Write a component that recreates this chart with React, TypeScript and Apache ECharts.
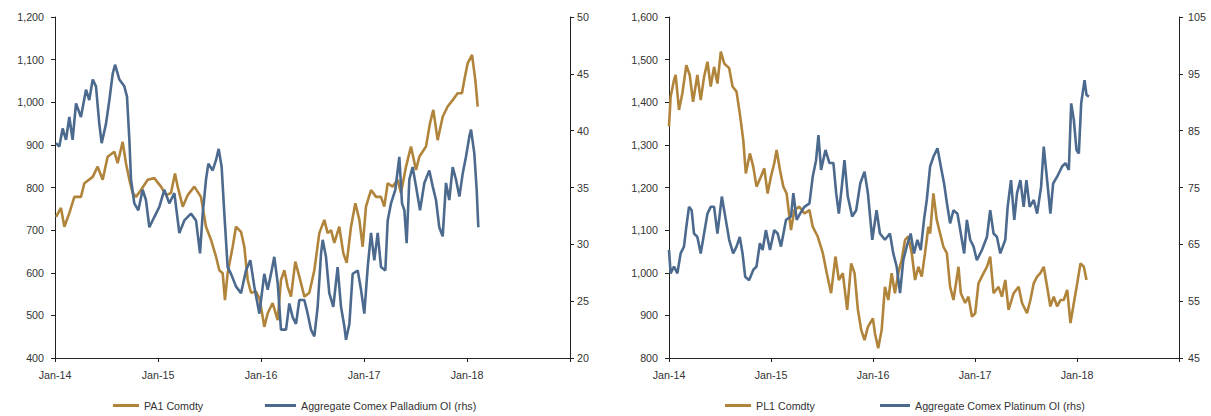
import React, { useEffect, useRef } from "react";
import * as echarts from "echarts";

// x values are decimal years (e.g. 2015.5 = early July 2015)
const yearLabels = ["Jan-14", "Jan-15", "Jan-16", "Jan-17", "Jan-18"];

const pa1Years = [2014.010, 2014.058, 2014.091, 2014.139, 2014.188, 2014.252, 2014.285, 2014.366, 2014.414, 2014.463, 2014.511, 2014.576, 2014.608, 2014.657, 2014.689, 2014.722, 2014.754, 2014.786, 2014.835, 2014.900, 2014.964, 2015.029, 2015.078, 2015.126, 2015.165, 2015.191, 2015.240, 2015.288, 2015.353, 2015.417, 2015.466, 2015.515, 2015.563, 2015.595, 2015.628, 2015.650, 2015.676, 2015.725, 2015.757, 2015.806, 2015.838, 2015.871, 2015.903, 2015.951, 2015.985, 2016.016, 2016.032, 2016.065, 2016.113, 2016.162, 2016.194, 2016.227, 2016.259, 2016.291, 2016.333, 2016.372, 2016.421, 2016.469, 2016.518, 2016.566, 2016.615, 2016.647, 2016.680, 2016.712, 2016.760, 2016.799, 2016.832, 2016.874, 2016.916, 2016.955, 2016.987, 2017.019, 2017.068, 2017.117, 2017.165, 2017.197, 2017.230, 2017.278, 2017.327, 2017.359, 2017.408, 2017.456, 2017.505, 2017.537, 2017.602, 2017.641, 2017.673, 2017.715, 2017.764, 2017.812, 2017.861, 2017.909, 2017.951, 2017.974, 2018.006, 2018.049, 2018.081, 2018.104];
const pa1Values = [731, 752, 708, 740, 778, 778, 810, 825, 849, 818, 872, 884, 857, 907, 857, 818, 787, 778, 794, 818, 822, 802, 782, 787, 833, 802, 755, 782, 802, 778, 708, 677, 638, 606, 599, 536, 599, 661, 708, 696, 661, 583, 553, 556, 540, 497, 473, 505, 529, 489, 583, 606, 567, 544, 626, 591, 544, 553, 606, 693, 724, 693, 700, 670, 708, 646, 623, 708, 763, 724, 661, 755, 794, 778, 778, 755, 810, 802, 818, 787, 849, 896, 841, 872, 896, 951, 982, 911, 966, 990, 1005, 1021, 1021, 1052, 1091, 1111, 1052, 990];

const pdOiYears = [2014.010, 2014.042, 2014.074, 2014.107, 2014.139, 2014.171, 2014.204, 2014.252, 2014.301, 2014.333, 2014.366, 2014.398, 2014.430, 2014.453, 2014.495, 2014.528, 2014.560, 2014.583, 2014.625, 2014.673, 2014.699, 2014.722, 2014.738, 2014.770, 2014.809, 2014.851, 2014.883, 2014.916, 2014.964, 2015.013, 2015.061, 2015.110, 2015.159, 2015.207, 2015.256, 2015.320, 2015.369, 2015.408, 2015.434, 2015.466, 2015.489, 2015.531, 2015.563, 2015.589, 2015.618, 2015.644, 2015.676, 2015.709, 2015.757, 2015.806, 2015.854, 2015.896, 2015.935, 2015.984, 2016.032, 2016.065, 2016.097, 2016.129, 2016.162, 2016.194, 2016.243, 2016.275, 2016.307, 2016.340, 2016.372, 2016.421, 2016.453, 2016.485, 2016.518, 2016.550, 2016.583, 2016.599, 2016.631, 2016.663, 2016.702, 2016.744, 2016.777, 2016.809, 2016.825, 2016.858, 2016.890, 2016.939, 2016.971, 2017.003, 2017.036, 2017.068, 2017.100, 2017.133, 2017.165, 2017.207, 2017.230, 2017.262, 2017.304, 2017.343, 2017.369, 2017.392, 2017.414, 2017.440, 2017.472, 2017.505, 2017.544, 2017.586, 2017.634, 2017.667, 2017.699, 2017.731, 2017.764, 2017.796, 2017.828, 2017.861, 2017.893, 2017.926, 2017.958, 2017.990, 2018.023, 2018.039, 2018.071, 2018.094, 2018.110];
const pdOiValues = [38.9, 38.6, 40.2, 39.2, 41.2, 39.2, 42.4, 41.2, 43.6, 42.7, 44.5, 43.9, 40.6, 38.9, 40.6, 42.7, 45.0, 45.8, 44.5, 43.9, 43.0, 39.2, 35.7, 33.6, 33.0, 34.8, 33.9, 31.5, 32.4, 33.3, 34.8, 33.6, 34.5, 31.0, 32.1, 32.7, 32.1, 29.2, 32.7, 35.7, 37.1, 36.5, 37.4, 38.4, 36.8, 32.7, 28.0, 27.4, 26.3, 25.7, 27.7, 28.6, 26.3, 23.9, 27.4, 26.0, 27.4, 28.9, 26.6, 22.5, 22.5, 24.8, 23.6, 23.0, 25.1, 25.1, 23.9, 22.5, 21.9, 24.5, 29.2, 30.4, 28.9, 25.7, 24.5, 28.0, 24.5, 22.8, 21.6, 23.0, 27.4, 27.7, 26.0, 23.9, 28.0, 31.0, 28.6, 31.0, 28.0, 27.7, 32.1, 33.6, 34.8, 37.7, 33.6, 33.0, 30.1, 35.7, 36.8, 35.1, 33.0, 35.4, 36.5, 35.1, 33.9, 31.5, 30.7, 35.4, 33.9, 36.8, 35.7, 34.2, 36.2, 37.7, 39.5, 40.1, 38.0, 34.8, 31.5];

const pl1Years = [2014.000, 2014.016, 2014.049, 2014.065, 2014.098, 2014.131, 2014.170, 2014.203, 2014.236, 2014.278, 2014.311, 2014.344, 2014.377, 2014.409, 2014.442, 2014.475, 2014.508, 2014.541, 2014.590, 2014.623, 2014.662, 2014.694, 2014.728, 2014.753, 2014.793, 2014.826, 2014.858, 2014.901, 2014.934, 2014.967, 2014.999, 2015.032, 2015.055, 2015.088, 2015.121, 2015.153, 2015.196, 2015.229, 2015.278, 2015.328, 2015.377, 2015.409, 2015.458, 2015.508, 2015.547, 2015.589, 2015.632, 2015.665, 2015.704, 2015.747, 2015.786, 2015.819, 2015.852, 2015.884, 2015.917, 2015.950, 2015.999, 2016.019, 2016.051, 2016.085, 2016.117, 2016.150, 2016.183, 2016.215, 2016.248, 2016.281, 2016.314, 2016.346, 2016.380, 2016.412, 2016.445, 2016.478, 2016.510, 2016.543, 2016.560, 2016.592, 2016.625, 2016.658, 2016.690, 2016.724, 2016.756, 2016.789, 2016.838, 2016.861, 2016.904, 2016.936, 2016.970, 2017.002, 2017.034, 2017.084, 2017.117, 2017.149, 2017.182, 2017.231, 2017.264, 2017.297, 2017.329, 2017.379, 2017.428, 2017.461, 2017.510, 2017.543, 2017.575, 2017.609, 2017.641, 2017.674, 2017.707, 2017.739, 2017.772, 2017.805, 2017.838, 2017.870, 2017.904, 2017.936, 2017.969, 2018.002, 2018.034, 2018.067, 2018.093];
const pl1Values = [1343, 1413, 1452, 1464, 1382, 1421, 1487, 1464, 1401, 1464, 1405, 1460, 1495, 1437, 1483, 1444, 1519, 1491, 1480, 1437, 1425, 1374, 1311, 1233, 1280, 1249, 1202, 1225, 1245, 1186, 1225, 1257, 1288, 1241, 1202, 1186, 1100, 1147, 1155, 1139, 1147, 1108, 1085, 1046, 999, 952, 1038, 983, 999, 913, 1022, 999, 913, 866, 842, 873, 893, 858, 823, 866, 967, 936, 999, 952, 999, 1030, 1077, 1085, 1046, 983, 1014, 991, 1046, 1108, 1092, 1186, 1124, 1092, 1061, 1046, 967, 936, 1014, 952, 929, 944, 897, 905, 975, 999, 1014, 1038, 952, 967, 944, 983, 913, 952, 967, 929, 905, 936, 975, 991, 999, 1014, 967, 921, 944, 921, 936, 936, 960, 882, 929, 975, 1022, 1014, 983];

const ptOiYears = [2014.000, 2014.016, 2014.049, 2014.082, 2014.114, 2014.147, 2014.170, 2014.196, 2014.222, 2014.245, 2014.278, 2014.311, 2014.344, 2014.377, 2014.409, 2014.442, 2014.475, 2014.518, 2014.557, 2014.590, 2014.629, 2014.662, 2014.694, 2014.721, 2014.747, 2014.786, 2014.826, 2014.858, 2014.891, 2014.918, 2014.950, 2014.990, 2015.032, 2015.065, 2015.098, 2015.147, 2015.196, 2015.219, 2015.252, 2015.285, 2015.328, 2015.377, 2015.409, 2015.442, 2015.465, 2015.491, 2015.534, 2015.573, 2015.612, 2015.639, 2015.665, 2015.694, 2015.720, 2015.753, 2015.796, 2015.835, 2015.875, 2015.917, 2015.950, 2015.993, 2016.035, 2016.068, 2016.117, 2016.166, 2016.199, 2016.232, 2016.265, 2016.297, 2016.330, 2016.369, 2016.402, 2016.435, 2016.468, 2016.500, 2016.527, 2016.560, 2016.592, 2016.632, 2016.665, 2016.697, 2016.730, 2016.756, 2016.789, 2016.828, 2016.861, 2016.894, 2016.920, 2016.953, 2016.986, 2017.018, 2017.068, 2017.117, 2017.149, 2017.182, 2017.215, 2017.248, 2017.297, 2017.320, 2017.353, 2017.385, 2017.412, 2017.445, 2017.477, 2017.504, 2017.536, 2017.576, 2017.609, 2017.648, 2017.674, 2017.707, 2017.739, 2017.766, 2017.805, 2017.854, 2017.887, 2017.920, 2017.943, 2017.969, 2017.995, 2018.018, 2018.041, 2018.074, 2018.093, 2018.117];
const ptOiValues = [64.0, 59.9, 61.1, 59.9, 63.4, 64.6, 68.1, 71.6, 71.0, 66.9, 66.3, 63.4, 66.9, 70.4, 71.6, 71.6, 66.9, 73.4, 69.3, 65.8, 63.4, 64.6, 66.3, 63.4, 59.3, 58.7, 60.5, 61.1, 65.2, 64.0, 67.5, 64.0, 67.5, 66.9, 64.6, 69.3, 69.9, 74.0, 69.3, 70.4, 71.6, 72.2, 76.9, 79.8, 84.2, 78.1, 81.6, 79.3, 79.3, 74.0, 70.4, 75.1, 79.8, 73.4, 69.9, 71.0, 75.7, 77.8, 74.0, 65.8, 71.0, 66.9, 65.8, 66.9, 63.4, 61.1, 56.4, 62.2, 64.6, 66.9, 63.4, 65.8, 64.0, 69.3, 72.8, 78.7, 80.4, 81.9, 78.7, 75.7, 71.6, 68.7, 71.0, 70.4, 66.9, 63.4, 69.3, 65.8, 64.6, 62.2, 64.0, 66.3, 71.0, 66.9, 66.3, 63.4, 65.8, 71.6, 76.3, 69.3, 74.0, 76.3, 71.6, 76.3, 71.6, 72.8, 70.4, 75.1, 82.2, 76.3, 70.4, 75.7, 76.9, 78.7, 79.3, 78.1, 89.8, 86.9, 81.6, 81.0, 89.8, 93.9, 91.3, 91.0];

const GOLD = "#B0843A";
const BLUE = "#4C6A8E";
const TEXT = "#333333";
const AXIS = "#222222";
const FONT = "'Liberation Sans', Arial, sans-serif";
const FS = 10.7;

const zip = (xs: number[], ys: number[]) => xs.map((x, i) => [x, ys[i]]);
const fmtThousands = (v: number) => v.toLocaleString("en-US");

function xAxisCfg(gridIndex: number) {
  return {
    type: "value",
    gridIndex,
    min: 2014,
    max: 2019,
    interval: 1,
    axisLine: { show: true, lineStyle: { color: AXIS, width: 1 } },
    axisTick: { show: true, length: 4, lineStyle: { color: AXIS } },
    splitLine: { show: false },
    axisLabel: {
      color: TEXT,
      fontFamily: FONT,
      fontSize: FS,
      margin: 11,
      formatter: (v: number) => yearLabels[Math.round(v) - 2014] ?? "",
    },
  };
}

function yAxisCfg(gridIndex: number, position: string, min: number, max: number, interval: number, thousands: boolean, margin: number) {
  return {
    type: "value",
    gridIndex,
    position,
    min,
    max,
    interval,
    axisLine: { show: true, onZero: false, lineStyle: { color: AXIS, width: 1 } },
    axisTick: { show: true, length: 4, lineStyle: { color: AXIS } },
    splitLine: { show: false },
    axisLabel: {
      color: TEXT,
      fontFamily: FONT,
      fontSize: FS,
      margin,
      formatter: (v: number) => (thousands ? fmtThousands(v) : String(v)),
    },
  };
}

function lineSeries(name: string, xi: number, yi: number, data: number[][], color: string) {
  return {
    name,
    type: "line",
    xAxisIndex: xi,
    yAxisIndex: yi,
    data,
    symbol: "none",
    showSymbol: false,
    lineStyle: { color, width: 2.6 },
    itemStyle: { color },
  };
}

function legendCfg(name: string, left: number, width: number) {
  return {
    data: [{ name, icon: "rect" }],
    left,
    top: 395,
    padding: 5,
    itemWidth: width,
    itemHeight: 3,
    itemGap: 5,
    textStyle: { color: TEXT, fontFamily: FONT, fontSize: FS },
    selectedMode: false,
  };
}

export default function App() {
  const ref = useRef<HTMLDivElement>(null);
  useEffect(() => {
    if (!ref.current) return;
    const chart = echarts.init(ref.current, undefined, { renderer: "svg" });
    chart.setOption({
      animation: false,
      backgroundColor: "#ffffff",
      grid: [
        { left: 55, top: 17, width: 515, height: 341 },
        { left: 669, top: 17, width: 510, height: 341 },
      ],
      xAxis: [xAxisCfg(0), xAxisCfg(1)],
      yAxis: [
        yAxisCfg(0, "left", 400, 1200, 100, true, 11),
        yAxisCfg(0, "right", 20, 50, 5, false, 7),
        yAxisCfg(1, "left", 800, 1600, 100, true, 11),
        yAxisCfg(1, "right", 45, 105, 10, false, 9),
      ],
      legend: [
        legendCfg("PA1 Comdty", 108, 26),
        legendCfg("Aggregate Comex Palladium OI (rhs)", 260, 31),
        legendCfg("PL1 Comdty", 720, 26),
        legendCfg("Aggregate Comex Platinum OI (rhs)", 875, 30),
      ],
      series: [
        lineSeries("PA1 Comdty", 0, 0, zip(pa1Years, pa1Values), GOLD),
        lineSeries("Aggregate Comex Palladium OI (rhs)", 0, 1, zip(pdOiYears, pdOiValues), BLUE),
        lineSeries("PL1 Comdty", 1, 2, zip(pl1Years, pl1Values), GOLD),
        lineSeries("Aggregate Comex Platinum OI (rhs)", 1, 3, zip(ptOiYears, ptOiValues), BLUE),
      ],
    });
    return () => chart.dispose();
  }, []);
  return (
    <div
      ref={ref}
      style={{ position: "fixed", left: 0, top: 0, width: 1211, height: 416, background: "#fff" }}
    />
  );
}
